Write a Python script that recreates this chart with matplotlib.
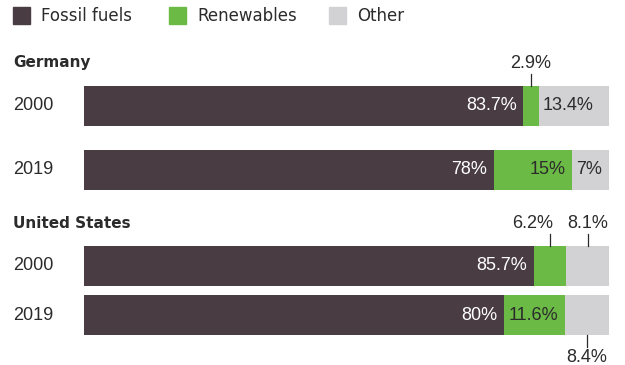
import matplotlib.pyplot as plt
from matplotlib.patches import Rectangle

plt.rcParams["font.family"] = ["Liberation Sans", "DejaVu Sans"]

# data
countries = ["Germany", "United States"]
years = ["2000", "2019"]
categories = ["Fossil fuels", "Renewables", "Other"]
germany_fossil = [83.7, 78]
germany_renew = [2.9, 15]
germany_other = [13.4, 7]
us_fossil = [85.7, 80]
us_renew = [6.2, 11.6]
us_other = [8.1, 8.4]

FOSSIL = "#4a3c43"
GREEN = "#6aba45"
GREY = "#d2d2d4"
TEXT = "#2b2b2b"
W, H = 625, 365

fig = plt.figure(figsize=(W / 100, H / 100), dpi=100)
ax = fig.add_axes([84 / W, 0, 525 / W, 1])
ax.set_xlim(0, 100)
ax.set_ylim(H, 0)
ax.axis("off")


def ftext(x, y, s, **kw):
    fig.text(x / W, 1 - y / H, s, **kw)


# legend
for (x0, label, col) in [(13, categories[0], FOSSIL), (169, categories[1], GREEN), (329, categories[2], GREY)]:
    fig.patches.append(Rectangle((x0 / W, 1 - 24 / H), 17 / W, 17 / H,
                                 transform=fig.transFigure, color=col))
    ftext(x0 + 28, 16, label, fontsize=12, color=TEXT, va="center", family="DejaVu Sans")


def fmt(v):
    return f"{v:g}%"


def draw_group(title, title_y, ys, fossil, renew, other, height, callouts):
    ftext(13, title_y, title, fontsize=11, fontweight="bold", color=TEXT, va="center",
          family="DejaVu Sans")
    for i, y in enumerate(ys):
        ftext(13, y, years[i], fontsize=13, color=TEXT, va="center")
        f, r, o = fossil[i], renew[i], other[i]
        ax.barh(y, f, left=0, height=height, color=FOSSIL)
        ax.barh(y, r, left=f, height=height, color=GREEN)
        ax.barh(y, o, left=f + r, height=height, color=GREY)
        ax.text(f - 1.3, y, fmt(f), color="white", fontsize=13, ha="right", va="center")
        pos = callouts.get(i, {})
        if "renew" in pos:
            cx = f + r / 2
            ax.plot([cx, cx], [y - height / 2, y - height / 2 - 12], color=TEXT, lw=0.9)
            ha = pos["renew"]
            lx = cx + 0.6 if ha == "right" else cx
            ax.text(lx, y - height / 2 - 22, fmt(r), color=TEXT, fontsize=13, ha=ha, va="center")
        else:
            ax.text(f + r - 1.3, y, fmt(r), color=TEXT, fontsize=13, ha="right", va="center")
        if "other" in pos:
            cx = f + r + o / 2
            side = pos["other"]
            edge = y - height / 2 if side == "top" else y + height / 2
            sgn = -1 if side == "top" else 1
            ax.plot([cx, cx], [edge, edge + sgn * 12], color=TEXT, lw=0.9)
            ax.text(cx, edge + sgn * 22, fmt(o), color=TEXT, fontsize=13, ha="center", va="center")
        else:
            ax.text(f + r + 0.8, y, fmt(o), color=TEXT, fontsize=13, ha="left", va="center")


draw_group(countries[0], 62, [106, 170], germany_fossil, germany_renew, germany_other, 40,
           {0: {"renew": "center"}})
draw_group(countries[1], 224, [266, 315], us_fossil, us_renew, us_other, 40,
           {0: {"renew": "right", "other": "top"}, 1: {"other": "bottom"}})

fig.savefig("out.png", dpi=100)
